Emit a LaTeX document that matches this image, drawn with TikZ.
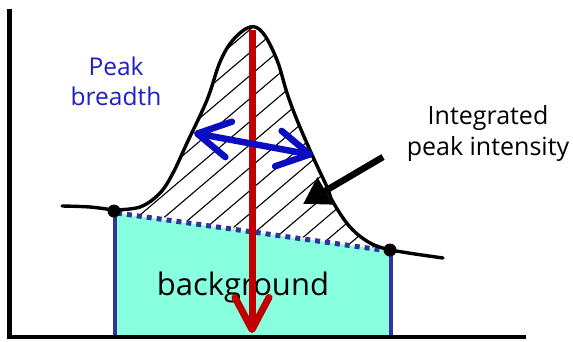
\documentclass[tikz,border=0pt]{standalone}
\usepackage{fontspec}
\setmainfont{Open Sans}
\usetikzlibrary{arrows.meta}
\definecolor{cyanfill}{RGB}{136,255,222}
\definecolor{basebl}{RGB}{51,51,153}
\definecolor{peakred}{RGB}{192,0,0}
\definecolor{arrbl}{RGB}{10,14,192}
\definecolor{txtbl}{RGB}{30,30,200}
\tikzset{
  curveline/.style={line width=3.4pt, line cap=round, line join=round},
  hatchline/.style={line width=1.1pt},
  sideline/.style={basebl, line width=4.5pt},
  baseline dash/.style={basebl, line width=5pt, dash pattern=on 5pt off 5pt},
  axisline/.style={line width=4.5pt},
  dotmark/.style={circle, fill=black, inner sep=0pt, minimum size=13pt},
  lbl/.style={inner sep=0pt, align=center},
}
\begin{document}
\begin{tikzpicture}[x=1pt,y=-1pt]
\useasboundingbox (0,0) rectangle (573,341);
% key coordinates
\coordinate (L) at (114,211);
\coordinate (R) at (390,250);
\coordinate (Lb) at (115,337);
\coordinate (Rb) at (391,337);
% background region
\fill[cyanfill] (115,213) -- (391,251) -- (Rb) -- (Lb) -- cycle;
% hatching
\begin{scope}
  \clip plot[smooth, tension=0.6] coordinates {(113,210) (140,207) (160,193) (173,173) (187,143) (207,100) (220,62) (233,40) (250,27) (263,33) (277,60) (287,93) (297,120) (313,157) (327,187) (333,202) (350,227) (370,243) (390,250)} -- cycle;
  \foreach \k in {-6,...,16} {
    \draw[hatchline] (100,{226+23*\k}) -- (400,{226+23*\k-255});
  }
\end{scope}
% dashed baseline
\draw[baseline dash] (117,213) -- (389,251);
% side lines
\draw[sideline] (115,213) -- (Lb);
\draw[sideline] (391,251) -- (Rb);
% curve
\draw[curveline] plot[smooth, tension=0.6] coordinates {(62,206) (90,207) (113,210)};
\draw[curveline] plot[smooth, tension=0.6] coordinates {(113,210) (140,207) (160,193) (173,173) (187,143) (207,100) (220,62) (233,40) (250,27) (263,33) (277,60) (287,93) (297,120) (313,157) (327,187) (333,202) (350,227) (370,243) (390,250)};
\draw[curveline] plot[smooth, tension=0.6] coordinates {(390,250) (415,254) (443,258)};
\node[dotmark] (dl) at (L) {};
\node[dotmark] (dr) at (R) {};
% axes
\coordinate (ax0) at (9.5,337);
\draw[axisline] (9.5,9) -- (ax0) -- (526,337);
% texts
\node[lbl, font=\fontsize{31}{31}\selectfont, anchor=base] (bg) at (243,295) {background};
\node[lbl, font=\fontsize{24.5}{30}\selectfont, text=txtbl, anchor=base] (pb) at (116,105) {Peak\\breadth};
\node[lbl, font=\fontsize{25}{31}\selectfont, anchor=base] (ip) at (488,155) {Integrated\\peak intensity};
% red arrow
\coordinate (rt) at (252,30);
\coordinate (rb) at (252,333);
\draw[peakred, line width=7pt, -{Straight Barb[length=32pt, width=34pt, line cap=round, line join=round]}] (rt) -- (rb);
% blue arrow
\coordinate (bl) at (194,133);
\coordinate (br) at (313,155);
\draw[arrbl, line width=6.5pt, {Straight Barb[length=32pt, width=36pt, line cap=round, line join=round]}-{Straight Barb[length=32pt, width=36pt, line cap=round, line join=round]}] (bl) -- (br);
% black arrow
\coordinate (ks) at (383,157);
\coordinate (ke) at (303,204);
\draw[line width=6.5pt, -{Triangle[length=26pt, width=30pt]}] (ks) -- (ke);
\end{tikzpicture}
\end{document}
